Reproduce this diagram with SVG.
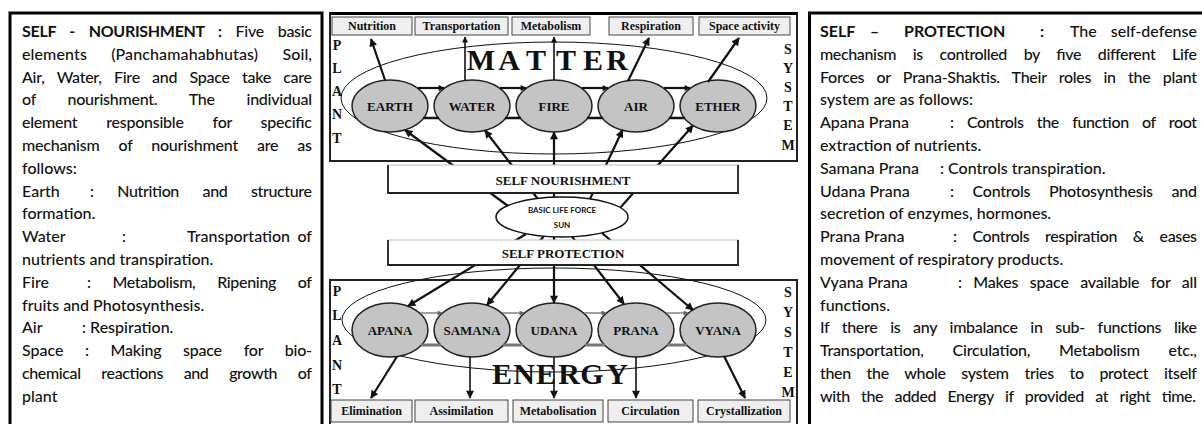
<svg xmlns="http://www.w3.org/2000/svg" width="1202" height="424" viewBox="0 0 1202 424">
<style>
.body{font-family:Lato,"Liberation Sans",sans-serif;font-size:16px;fill:#111;font-weight:500}
.hd{font-weight:700}
.ser{font-family:"Liberation Serif","Times New Roman",serif;font-weight:bold;fill:#111}
.box{fill:#efefef;stroke:#444;stroke-width:1}
.bt{font-size:12px;text-anchor:middle}
.ell{fill:#c4c4c4;stroke:#222;stroke-width:1.5}
.et{font-size:13px;text-anchor:middle}
.big{fill:none;stroke:#111;stroke-width:1}
.vl{font-size:14px;text-anchor:middle}
.ml{font-size:30px;text-anchor:middle}
.cn{stroke:#111;stroke-width:2.2;fill:none}
.cnt{stroke:#111;stroke-width:1.6;fill:none}
.gl{stroke:#777;stroke-width:1.4;fill:none}
.gb{stroke:#777;stroke-width:3;fill:none}
.kb{stroke:#111;stroke-width:2.5;fill:none}
.panel{fill:#fff;stroke:#222;stroke-width:2}
.side{fill:none;stroke:#000;stroke-width:3}
.sb{fill:#fff;stroke:#bbb;stroke-width:1}
.sbe{fill:none;stroke:#222;stroke-width:1.8}
.st{font-size:13px;text-anchor:middle}
.sun{font-family:Lato,"Liberation Sans",sans-serif;font-weight:700;font-size:8px;text-anchor:middle;fill:#111}
</style>
<defs>
<marker id="ah" viewBox="0 0 10 10" refX="9" refY="5" markerWidth="9" markerHeight="8" markerUnits="userSpaceOnUse" orient="auto"><path d="M0,0 L10,5 L0,10 z" fill="#111"/></marker>
<marker id="ahs" viewBox="0 0 10 10" refX="9" refY="5" markerWidth="7" markerHeight="6" markerUnits="userSpaceOnUse" orient="auto"><path d="M0,0 L10,5 L0,10 z" fill="#111"/></marker>
<marker id="ahg" viewBox="0 0 10 10" refX="9" refY="5" markerWidth="6" markerHeight="5" markerUnits="userSpaceOnUse" orient="auto"><path d="M0,0 L10,5 L0,10 z" fill="#666"/></marker>
</defs>
<rect width="1202" height="424" fill="#fff"/>

<g id="left-panel">
<rect class="side" x="10" y="13" width="312" height="420"/>
<g class="body">
<text x="22" y="37" word-spacing="10" textLength="290" lengthAdjust="spacing"><tspan class="hd">SELF - NOURISHMENT :</tspan> Five basic</text>
<text x="22" y="59.8" word-spacing="20" textLength="290" lengthAdjust="spacing">elements (Panchamahabhutas) Soil,</text>
<text x="22" y="82.6" word-spacing="8.5" textLength="290" lengthAdjust="spacing">Air, Water, Fire and Space take care</text>
<text x="22" y="105.4" word-spacing="28" textLength="290" lengthAdjust="spacing">of nourishment. The individual</text>
<text x="22" y="128.2" word-spacing="25" textLength="290" lengthAdjust="spacing">element responsible for specific</text>
<text x="22" y="151" word-spacing="15" textLength="290" lengthAdjust="spacing">mechanism of nourishment are as</text>
<text x="22" y="173.8">follows:</text>
<text x="22" y="196.6">Earth</text>
<text x="90" y="196.6" word-spacing="20" textLength="222" lengthAdjust="spacing">: Nutrition and structure</text>
<text x="22" y="219.4">formation.</text>
<text x="22" y="242.2">Water</text>
<text x="122" y="242.2">:</text>
<text x="187" y="242.2">Transportation</text>
<text x="312" y="242.2" text-anchor="end">of</text>
<text x="22" y="265">nutrients and transpiration.</text>
<text x="22" y="287.8">Fire</text>
<text x="87" y="287.8" word-spacing="18" textLength="225" lengthAdjust="spacing">: Metabolism, Ripening of</text>
<text x="22" y="310.6">fruits and Photosynthesis.</text>
<text x="22" y="333.4">Air</text>
<text x="82" y="333.4">: Respiration.</text>
<text x="22" y="356.2">Space</text>
<text x="85" y="356.2" word-spacing="18" textLength="227" lengthAdjust="spacing">: Making space for bio-</text>
<text x="22" y="379" word-spacing="17" textLength="290" lengthAdjust="spacing">chemical reactions and growth of</text>
<text x="22" y="401.8">plant</text>
</g>
</g>

<g id="right-panel">
<rect class="side" x="809.5" y="13" width="400" height="420"/>
<g class="body">
<text x="820" y="37" class="hd">SELF</text>
<text x="870" y="37" class="hd">–</text>
<text x="904" y="37" class="hd">PROTECTION</text>
<text x="1040" y="37" class="hd">:</text>
<text x="1070" y="37">The</text>
<text x="1197" y="37" text-anchor="end">self-defense</text>
<text x="820" y="59.8" word-spacing="13" textLength="377" lengthAdjust="spacing">mechanism is controlled by five different Life</text>
<text x="820" y="82.6" word-spacing="8.5" textLength="377" lengthAdjust="spacing">Forces or Prana-Shaktis. Their roles in the plant</text>
<text x="820" y="105.4">system are as follows:</text>
<text x="820" y="128.2">Apana Prana</text>
<text x="950" y="128.2" word-spacing="9.6" textLength="247" lengthAdjust="spacing">: Controls the function of root</text>
<text x="820" y="151">extraction of nutrients.</text>
<text x="820" y="173.8">Samana Prana</text>
<text x="940" y="173.8">: Controls transpiration.</text>
<text x="820" y="196.6">Udana Prana</text>
<text x="950" y="196.6" word-spacing="15" textLength="247" lengthAdjust="spacing">: Controls Photosynthesis and</text>
<text x="820" y="219.4">secretion of enzymes, hormones.</text>
<text x="820" y="242.2">Prana Prana</text>
<text x="953" y="242.2" word-spacing="12" textLength="244" lengthAdjust="spacing">: Controls respiration &amp; eases</text>
<text x="820" y="265">movement of respiratory products.</text>
<text x="820" y="287.8">Vyana Prana</text>
<text x="958" y="287.8" word-spacing="7.6" textLength="239" lengthAdjust="spacing">: Makes space available for all</text>
<text x="820" y="310.6">functions.</text>
<text x="820" y="333.4" word-spacing="9" textLength="377" lengthAdjust="spacing">If there is any imbalance in sub- functions like</text>
<text x="820" y="356.2" word-spacing="25" textLength="377" lengthAdjust="spacing">Transportation, Circulation, Metabolism etc.,</text>
<text x="820" y="379" word-spacing="12" textLength="377" lengthAdjust="spacing">then the whole system tries to protect itself</text>
<text x="820" y="401.8" word-spacing="7.7" textLength="376" lengthAdjust="spacing">with the added Energy if provided at right time.</text>
</g>
</g>

<g id="matter-panel">
<rect class="panel" x="330" y="13" width="467" height="148"/>
<line x1="330" y1="13.5" x2="797" y2="13.5" stroke="#000" stroke-width="3"/>
<ellipse class="big" cx="554" cy="98" rx="213" ry="56"/>
<g class="ser vl">
<text x="337" y="50">P</text><text x="337" y="73">L</text><text x="337" y="96">A</text><text x="337" y="119">N</text><text x="337" y="143">T</text>
<text x="788" y="54">S</text><text x="788" y="73">Y</text><text x="788" y="92">S</text><text x="788" y="111">T</text><text x="788" y="130">E</text><text x="788" y="150">M</text>
</g>
<g class="ser ml">
<text x="481" y="70">M</text><text x="509" y="70">A</text><text x="536" y="70">T</text><text x="566" y="70">T</text><text x="593" y="70">E</text><text x="617" y="70">R</text>
</g>
</g>

<g id="energy-panel">
<rect class="panel" x="330" y="280" width="467" height="152"/>
<ellipse class="big" cx="554" cy="320" rx="212" ry="52"/>
<g class="ser vl">
<text x="337" y="296">P</text><text x="337" y="320">L</text><text x="337" y="345">A</text><text x="337" y="370">N</text><text x="337" y="394">T</text>
<text x="788" y="297">S</text><text x="788" y="317">Y</text><text x="788" y="337">S</text><text x="788" y="357">T</text><text x="788" y="377">E</text><text x="788" y="397">M</text>
</g>
<g class="ser ml">
<text x="502" y="384">E</text><text x="524" y="384">N</text><text x="546" y="384">E</text><text x="569" y="384">R</text><text x="592" y="384">G</text><text x="617" y="384">Y</text>
</g>
</g>

<g id="box-nutrition"><rect class="box" x="332" y="17" width="80" height="18"/><text class="ser bt" x="372" y="30">Nutrition</text></g>
<g id="box-transportation"><rect class="box" x="415" y="17" width="93" height="18"/><text class="ser bt" x="461.5" y="30">Transportation</text></g>
<g id="box-metabolism"><rect class="box" x="512" y="17" width="78" height="18"/><text class="ser bt" x="551" y="30">Metabolism</text></g>
<g id="box-respiration"><rect class="box" x="609" y="17" width="84" height="18"/><text class="ser bt" x="651" y="30">Respiration</text></g>
<g id="box-space-activity"><rect class="box" x="699" y="17" width="91" height="18"/><text class="ser bt" x="744.5" y="30">Space activity</text></g>

<g id="box-elimination"><rect class="box" x="331" y="400" width="81" height="22"/><text class="ser bt" x="371.5" y="415">Elimination</text></g>
<g id="box-assimilation"><rect class="box" x="415" y="400" width="93" height="22"/><text class="ser bt" x="461.5" y="415">Assimilation</text></g>
<g id="box-metabolisation"><rect class="box" x="513" y="400" width="90" height="22"/><text class="ser bt" x="558" y="415">Metabolisation</text></g>
<g id="box-circulation"><rect class="box" x="608" y="400" width="85" height="22"/><text class="ser bt" x="650.5" y="415">Circulation</text></g>
<g id="box-crystallization"><rect class="box" x="698" y="400" width="92" height="22"/><text class="ser bt" x="744" y="415">Crystallization</text></g>

<g id="node-earth"><ellipse class="ell" cx="390" cy="106" rx="38" ry="26"/><text class="ser et" x="390" y="110.5">EARTH</text></g>
<g id="node-water"><ellipse class="ell" cx="472" cy="106" rx="38" ry="26"/><text class="ser et" x="472" y="110.5">WATER</text></g>
<g id="node-fire"><ellipse class="ell" cx="554" cy="106" rx="38" ry="26"/><text class="ser et" x="554" y="110.5">FIRE</text></g>
<g id="node-air"><ellipse class="ell" cx="636" cy="106" rx="38" ry="26"/><text class="ser et" x="636" y="110.5">AIR</text></g>
<g id="node-ether"><ellipse class="ell" cx="718" cy="106" rx="38" ry="26"/><text class="ser et" x="718" y="110.5">ETHER</text></g>

<g id="node-apana"><ellipse class="ell" cx="390" cy="330" rx="38" ry="27"/><text class="ser et" x="390" y="334.5">APANA</text></g>
<g id="node-samana"><ellipse class="ell" cx="472" cy="330" rx="38" ry="27"/><text class="ser et" x="472" y="334.5">SAMANA</text></g>
<g id="node-udana"><ellipse class="ell" cx="554" cy="330" rx="38" ry="27"/><text class="ser et" x="554" y="334.5">UDANA</text></g>
<g id="node-prana"><ellipse class="ell" cx="636" cy="330" rx="38" ry="27"/><text class="ser et" x="636" y="334.5">PRANA</text></g>
<g id="node-vyana"><ellipse class="ell" cx="718" cy="330" rx="38" ry="27"/><text class="ser et" x="718" y="334.5">VYANA</text></g>

<g id="connectors">
<path class="cn" marker-end="url(#ah)" d="M385,80 L371,39"/>
<path class="cnt" marker-end="url(#ahs)" d="M465,80 L465,37"/>
<path class="cnt" marker-end="url(#ahs)" d="M554,80 L554,37"/>
<path class="cn" marker-end="url(#ah)" d="M628,81 L649,38"/>
<path class="cn" marker-end="url(#ah)" d="M708,82 L739,38"/>
<path class="cn" marker-end="url(#ahs)" d="M418,88 L444,88"/>
<path class="cn" marker-end="url(#ahs)" d="M500,88 L526,88"/>
<path class="cn" marker-end="url(#ahs)" d="M582,88 L608,88"/>
<path class="cn" marker-end="url(#ahs)" d="M664,88 L690,88"/>
<path class="kb" d="M423,118 L439,118 M505,118 L521,118 M587,118 L603,118 M669,118 L685,118"/>
<path class="cn" marker-end="url(#ah)" d="M508,206 L405,130"/>
<path class="cn" marker-end="url(#ah)" d="M537.5,198.5 L485,130.5"/>
<path class="cn" marker-end="url(#ah)" d="M554,197 L554,132"/>
<path class="cn" marker-end="url(#ah)" d="M590,199 L622.5,130"/>
<path class="cn" marker-end="url(#ah)" d="M620,208 L693,125.5"/>
<path class="cn" marker-end="url(#ah)" d="M526,234 L408,306"/>
<path class="cn" marker-end="url(#ah)" d="M544,236 L487,305"/>
<path class="cn" marker-end="url(#ah)" d="M554,237 L554,303"/>
<path class="cn" marker-end="url(#ah)" d="M572,236.6 L624,304"/>
<path class="cn" marker-end="url(#ah)" d="M602,233 L693,310"/>
<path class="gl" marker-end="url(#ahg)" d="M420,313 L442,313"/>
<path class="gl" marker-end="url(#ahg)" d="M502,313 L524,313"/>
<path class="gl" marker-end="url(#ahg)" d="M584,313 L606,313"/>
<path class="gl" marker-end="url(#ahg)" d="M666,313 L688,313"/>
<path class="gb" d="M421,345 L441,345 M503,345 L523,345 M585,345 L605,345 M667,345 L687,345"/>
<path class="cn" marker-end="url(#ah)" d="M397,356.5 L371,398"/>
<path class="cnt" marker-end="url(#ah)" d="M470,357 L470,398"/>
<path class="cnt" marker-end="url(#ah)" d="M554,357 L554,398"/>
<path class="cnt" marker-end="url(#ah)" d="M636,357 L636,398"/>
<path class="cn" marker-end="url(#ah)" d="M724,356 L745,398"/>
</g>

<g id="self-nourishment">
<rect class="sb" x="388" y="165" width="350" height="28"/>
<path class="sbe" d="M388,165 L388,193 L738,193 L738,165"/>
<text class="ser st" x="563" y="185">SELF NOURISHMENT</text>
</g>
<g id="self-protection">
<rect class="sb" x="388" y="240" width="350" height="25"/>
<path class="sbe" d="M388,240 L388,265 L738,265 L738,240"/>
<text class="ser st" x="563" y="258">SELF PROTECTION</text>
</g>
<g id="basic-life-force">
<ellipse cx="562" cy="217" rx="66" ry="20" fill="#fff" stroke="#111" stroke-width="1.5"/>
<text class="sun" x="562" y="213">BASIC LIFE FORCE</text>
<text class="sun" x="562" y="228">SUN</text>
</g>
</svg>
